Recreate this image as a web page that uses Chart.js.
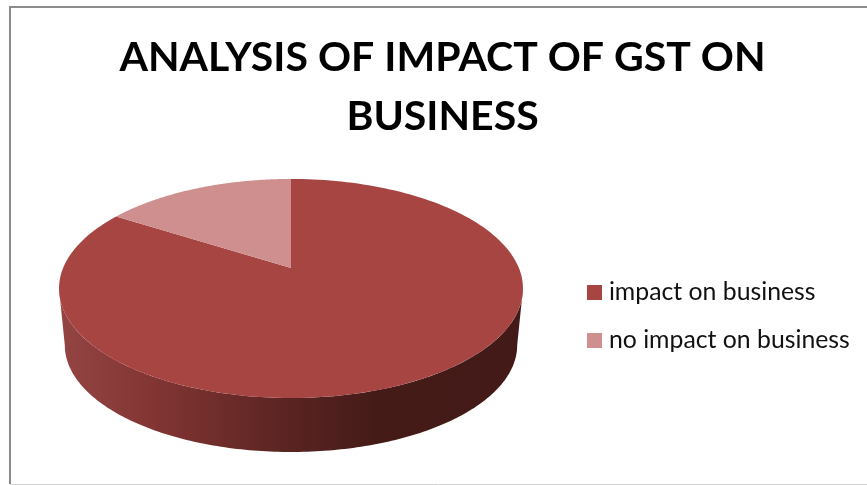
<!DOCTYPE html>
<html>
<head>
<meta charset="utf-8">
<title>Impact of GST</title>
<script src="https://cdn.jsdelivr.net/npm/chart.js@4"></script>
<style>
  html, body { margin: 0; padding: 0; background: #fff; }
  canvas { display: block; }
</style>
</head>
<body>
<canvas id="gstPie" width="867" height="485"></canvas>
<script>
// Survey split
const categories = ['impact on business', 'no impact on business'];
const shares = [84, 16];
const sliceColors = ['#a74543', '#cf8f8e'];
const titleLines = ['ANALYSIS OF IMPACT OF GST ON', 'BUSINESS'];

// Tilted disc: where the hub lands and how strongly the far side recedes
const hub = { x: 291, y: 268 };
const spreadX = 227.9;
const spreadY = 105.7;
const recede = 0.187;

// Side wall: the lower rim is a little smaller and sits below the upper one
const rimMidY = 288.5;
const rimScale = 0.975;
const rimDrop = 56.7;

function projectTop(angle) {
    const u = Math.cos(angle);
    const v = Math.sin(angle);
    const w = 1 - recede * v;
    return { x: hub.x + spreadX * u / w, y: hub.y + spreadY * v / w };
}

function projectBottom(angle) {
    const p = projectTop(angle);
    return {
        x: hub.x + (p.x - hub.x) * rimScale,
        y: rimMidY + (p.y - rimMidY) * rimScale + rimDrop
    };
}

function wallGradient(ctx) {
    const g = ctx.createLinearGradient(60, 0, 523, 0);
    g.addColorStop(0, '#944543');
    g.addColorStop(0.2, '#823533');
    g.addColorStop(0.49, '#5a2422');
    g.addColorStop(0.68, '#451b18');
    g.addColorStop(1, '#431a17');
    return g;
}

// Arc element that draws itself as a slice of the tilted disc, wall included
class TiltedArc extends Chart.ArcElement {
    static id = 'tiltedArc';

    draw(ctx) {
        const { startAngle, endAngle } = this.getProps(['startAngle', 'endAngle']);
        const steps = 180;

        // only the near side of the rim shows a wall
        const frontStart = Math.max(startAngle, Math.asin(recede));
        const frontEnd = Math.min(endAngle, Math.PI - Math.asin(recede));
        if (frontEnd > frontStart) {
            ctx.beginPath();
            for (let i = 0; i <= steps; i++) {
                const p = projectTop(frontStart + (frontEnd - frontStart) * i / steps);
                if (i === 0) ctx.moveTo(p.x, p.y); else ctx.lineTo(p.x, p.y);
            }
            for (let i = steps; i >= 0; i--) {
                const p = projectBottom(frontStart + (frontEnd - frontStart) * i / steps);
                ctx.lineTo(p.x, p.y);
            }
            ctx.closePath();
            ctx.fillStyle = wallGradient(ctx);
            ctx.fill();
        }

        ctx.beginPath();
        ctx.moveTo(hub.x, hub.y);
        for (let i = 0; i <= steps; i++) {
            const p = projectTop(startAngle + (endAngle - startAngle) * i / steps);
            ctx.lineTo(p.x, p.y);
        }
        ctx.closePath();
        ctx.fillStyle = this.options.backgroundColor;
        ctx.fill();
    }
}

class TiltedPieController extends Chart.PieController {
    static id = 'tiltedPie';
    static defaults = { dataElementType: 'tiltedArc' };
}

Chart.register(TiltedArc, TiltedPieController);

// Frame around the chart, open on the right
const framePlugin = {
    id: 'frame',
    beforeDraw(chart) {
        const ctx = chart.ctx;
        ctx.save();
        ctx.fillStyle = '#ffffff';
        ctx.fillRect(0, 0, chart.width, chart.height);
        ctx.strokeStyle = '#8c8c8c';
        ctx.lineWidth = 2;
        ctx.beginPath();
        ctx.moveTo(867, 7);
        ctx.lineTo(10, 7);
        ctx.lineTo(10, 484);
        ctx.stroke();
        ctx.strokeStyle = '#d2d2d2';
        ctx.lineWidth = 1;
        ctx.beginPath();
        ctx.moveTo(10, 484.5);
        ctx.lineTo(867, 484.5);
        ctx.stroke();
        ctx.restore();
    }
};

// Pin the legend next to the pie
const legendPlacement = {
    id: 'legendPlacement',
    afterLayout(chart) {
        const legend = chart.legend;
        const h = legend.height;
        legend.left = 569.3;
        legend.right = legend.left + legend.width;
        legend.top = 316.5 - h / 2;
        legend.bottom = legend.top + h;
    }
};

// Small legend boxes with a thick same-colour outline: the swatch stays 15px
// but the label sits closer to it than the default gap allows
function legendLabels(chart) {
    const items = Chart.overrides.pie.plugins.legend.labels.generateLabels(chart);
    return items.map(item => ({ ...item, lineWidth: 11, strokeStyle: item.fillStyle }));
}

new Chart(document.getElementById('gstPie'), {
    type: 'tiltedPie',
    data: {
        labels: categories,
        datasets: [{
            data: shares,
            backgroundColor: sliceColors,
            borderWidth: 0,
            clip: false
        }]
    },
    plugins: [framePlugin, legendPlacement],
    options: {
        responsive: false,
        animation: false,
        layout: { padding: { left: 18, top: 28, right: 0, bottom: 0 } },
        plugins: {
            tooltip: { enabled: false },
            title: {
                display: true,
                text: titleLines,
                color: '#000000',
                font: { family: 'Lato', size: 41, weight: 'bold', lineHeight: 1.45 },
                padding: 0
            },
            legend: {
                position: 'right',
                labels: {
                    boxWidth: 4,
                    boxHeight: 4,
                    padding: 23.2,
                    color: '#111111',
                    font: { family: 'Lato', size: 24.8 },
                    generateLabels: legendLabels
                }
            }
        }
    }
});
</script>
</body>
</html>
